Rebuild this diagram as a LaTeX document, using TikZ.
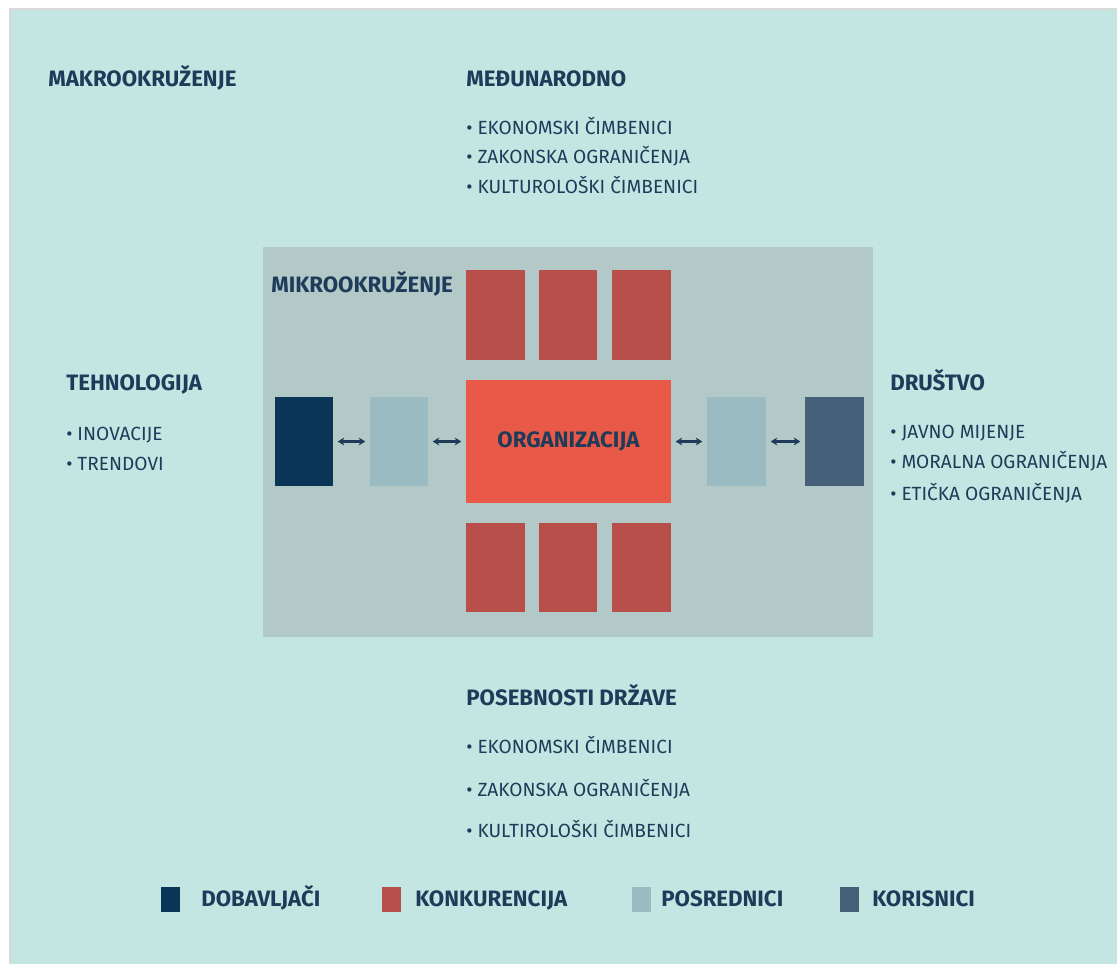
\documentclass[tikz,border=0pt]{standalone}
\usepackage{fontspec}
\setmainfont{Fira Sans}
\usetikzlibrary{arrows.meta}
\definecolor{mint}{HTML}{C4E6E2}
\definecolor{micro}{HTML}{B2C9C8}
\definecolor{konk}{HTML}{B94F4A}
\definecolor{orgc}{HTML}{E85A47}
\definecolor{dob}{HTML}{0B3556}
\definecolor{posr}{HTML}{9BBBC2}
\definecolor{kor}{HTML}{46607A}
\definecolor{txt}{HTML}{1F3B5A}
\begin{document}
\begin{tikzpicture}[x=0.75pt,y=-0.75pt,
  rect/.style={draw=none,inner sep=0pt,outer sep=0pt,minimum width=#1*0.75pt},
  ht/.style={minimum height=#1*0.75pt},
  hd/.style={anchor=base west,inner sep=0pt,text=txt,font=\fontsize{16.7}{20}\selectfont\bfseries},
  bl/.style={anchor=base west,inner sep=0pt,text=txt,font=\fontsize{14.3}{17}\selectfont},
  dbl/.style={{Stealth[length=5pt,width=6pt]}-{Stealth[length=5pt,width=6pt]},draw=txt,line width=1.8pt,shorten <=3.5pt,shorten >=3.5pt}]
\useasboundingbox (0,0) rectangle (1117,964);
\fill[white] (0,0) rectangle (1117,964);
\fill[mint] (10,9) rectangle (1117,964);
\draw[black!15,line width=1.2pt] (10,964) -- (10,9) -- (1117,9);
% microenvironment box
\node[rect=610,ht=390,fill=micro] (mikro) at (568,442) {};
% competition boxes
\node[rect=59,ht=90,fill=konk] (k1) at (495.5,315) {};
\node[rect=58,ht=90,fill=konk] (k2) at (568,315) {};
\node[rect=59,ht=90,fill=konk] (k3) at (641.5,315) {};
\node[rect=59,ht=89,fill=konk] (k4) at (495.5,567.5) {};
\node[rect=58,ht=89,fill=konk] (k5) at (568,567.5) {};
\node[rect=59,ht=89,fill=konk] (k6) at (641.5,567.5) {};
% organisation
\node[rect=205,ht=123,fill=orgc,text=txt,font=\fontsize{16.7}{20}\selectfont\bfseries] (org) at (568.5,441.5) {ORGANIZACIJA};
% chain
\node[rect=58,ht=89,fill=dob] (dobav) at (304,441.5) {};
\node[rect=58,ht=89,fill=posr] (posL) at (399,441.5) {};
\node[rect=59,ht=89,fill=posr] (posR) at (736.5,441.5) {};
\node[rect=59,ht=89,fill=kor] (koris) at (834.5,441.5) {};
\draw[dbl] (dobav.east) -- (posL.west);
\draw[dbl] (posL.east) -- (org.west);
\draw[dbl] (org.east) -- (posR.west);
\draw[dbl] (posR.east) -- (koris.west);
% texts
\node[hd] (makro) at (48,86) {MAKROOKRUŽENJE};
\node[hd] (medj) at (466,86) {MEĐUNARODNO};
\node[bl] (m1) at (466,134) {• EKONOMSKI ČIMBENICI};
\node[bl] (m2) at (466,163) {• ZAKONSKA OGRANIČENJA};
\node[bl] (m3) at (466,193) {• KULTUROLOŠKI ČIMBENICI};
\node[hd] (mikrot) at (271,292) {MIKROOKRUŽENJE};
\node[hd] (teh) at (66,390) {TEHNOLOGIJA};
\node[bl] (t1) at (66,440) {• INOVACIJE};
\node[bl] (t2) at (66,470) {• TRENDOVI};
\node[hd] (drus) at (890,390) {DRUŠTVO};
\node[bl] (d1) at (890,438) {• JAVNO MIJENJE};
\node[bl] (d2) at (890,468) {• MORALNA OGRANIČENJA};
\node[bl] (d3) at (890,500) {• ETIČKA OGRANIČENJA};
\node[hd] (pos) at (466,705) {POSEBNOSTI DRŽAVE};
\node[bl] (p1) at (466,753) {• EKONOMSKI ČIMBENICI};
\node[bl] (p2) at (466,796) {• ZAKONSKA OGRANIČENJA};
\node[bl] (p3) at (466,837) {• KULTIROLOŠKI ČIMBENICI};
% legend
\node[rect=19,ht=25,fill=dob] (lg1) at (170.5,899.5) {};
\node[hd] (lt1) at (201,906) {DOBAVLJAČI};
\node[rect=19,ht=25,fill=konk] (lg2) at (391.5,899.5) {};
\node[hd] (lt2) at (415,906) {KONKURENCIJA};
\node[rect=19,ht=25,fill=posr] (lg3) at (641.5,899.5) {};
\node[hd] (lt3) at (661,906) {POSREDNICI};
\node[rect=19,ht=25,fill=kor] (lg4) at (849.5,899.5) {};
\node[hd] (lt4) at (872,906) {KORISNICI};
\end{tikzpicture}
\end{document}
